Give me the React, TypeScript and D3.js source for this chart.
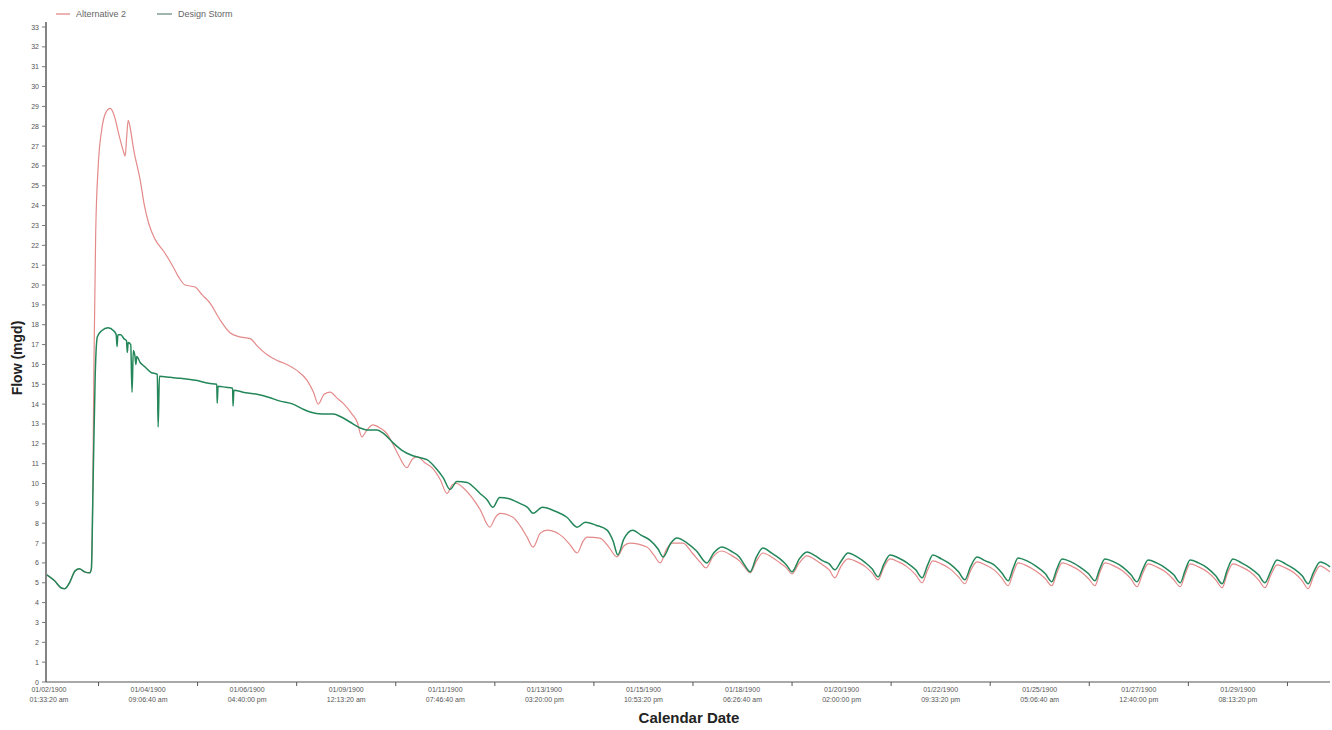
import React from "react";
import * as d3 from "d3";

// ---- Data (x = days from chart start, y = flow in mgd) ----
const seriesNames = ["Alternative 2", "Design Storm"];
const seriesColors = ["#e48a8a", "#23875a"];

const alternative2: [number, number][] = [
  [0.02, 5.4], [0.2, 5.1], [0.35, 4.75], [0.44, 4.7], [0.55, 5.0], [0.68, 5.6], [0.78, 5.7], [0.9, 5.55], [1.02, 5.5], [1.06, 5.7],
  [1.09, 9], [1.12, 16], [1.16, 22.5], [1.22, 26.0], [1.3, 27.8], [1.4, 28.7], [1.5, 28.9], [1.6, 28.5], [1.7, 27.6], [1.8, 26.8],
  [1.85, 26.5], [1.88, 27.3], [1.92, 28.3], [1.96, 28.0], [2.05, 26.8], [2.2, 25.3], [2.3, 24.0], [2.4, 23.1], [2.55, 22.3], [2.75, 21.7],
  [2.95, 21.0], [3.1, 20.4], [3.25, 20.0], [3.48, 19.9], [3.65, 19.5], [3.83, 19.1], [4.05, 18.3], [4.3, 17.6], [4.5, 17.4], [4.77, 17.3],
  [4.95, 16.9], [5.16, 16.5], [5.4, 16.2], [5.63, 16.0], [5.86, 15.7], [6.1, 15.2], [6.25, 14.6], [6.36, 14.0], [6.5, 14.5], [6.64, 14.6],
  [6.8, 14.3], [6.94, 14.05], [7.15, 13.5], [7.27, 13.1], [7.38, 12.35], [7.5, 12.7], [7.64, 12.95], [7.8, 12.8], [7.97, 12.5], [8.1, 12.0],
  [8.22, 11.5], [8.43, 10.8], [8.55, 11.2], [8.67, 11.35], [8.85, 11.05], [9.04, 10.75], [9.21, 10.2], [9.37, 9.5], [9.5, 9.95], [9.6, 10.0],
  [9.74, 9.8], [9.95, 9.3], [10.14, 8.7], [10.37, 7.8], [10.5, 8.3], [10.61, 8.5], [10.91, 8.3], [11.1, 7.8], [11.24, 7.3], [11.38, 6.8],
  [11.55, 7.5], [11.71, 7.65], [12.08, 7.3], [12.25, 6.9], [12.41, 6.5], [12.55, 7.1], [12.64, 7.3], [12.94, 7.25], [13.15, 6.8], [13.34, 6.3],
  [13.5, 6.85], [13.64, 7.0], [14.04, 6.8], [14.2, 6.4], [14.35, 6.0], [14.5, 6.7], [14.65, 7.0], [14.88, 7.0], [15.1, 6.5], [15.3, 6.0],
  [15.42, 5.75], [15.58, 6.3], [15.79, 6.6], [16.0, 6.4], [16.2, 6.1], [16.32, 5.8], [16.45, 5.5],
  [16.6, 6.1], [16.75, 6.5], [16.95, 6.3], [17.15, 6.0], [17.3, 5.75], [17.43, 5.45],
  [17.6, 6.0], [17.78, 6.35], [17.98, 6.15], [18.15, 5.9], [18.3, 5.65], [18.43, 5.25],
  [18.58, 5.85], [18.74, 6.2], [18.95, 6.05], [19.15, 5.8], [19.3, 5.5], [19.44, 5.15],
  [19.58, 5.8], [19.72, 6.2], [19.92, 6.05], [20.12, 5.8], [20.32, 5.4], [20.47, 5.0],
  [20.6, 5.65], [20.72, 6.1], [20.92, 5.95], [21.12, 5.7], [21.32, 5.3], [21.47, 4.95],
  [21.6, 5.6], [21.75, 6.05], [21.95, 5.9], [22.15, 5.65], [22.33, 5.25], [22.48, 4.85],
  [22.6, 5.5], [22.71, 6.0], [22.92, 5.85], [23.12, 5.6], [23.35, 5.2], [23.5, 4.85],
  [23.62, 5.5], [23.74, 6.0], [23.95, 5.85], [24.15, 5.6], [24.36, 5.2], [24.51, 4.85],
  [24.62, 5.5], [24.74, 6.0], [24.95, 5.85], [25.15, 5.6], [25.35, 5.2], [25.49, 4.8],
  [25.62, 5.45], [25.75, 5.95], [25.95, 5.8], [26.15, 5.55], [26.35, 5.15], [26.5, 4.8],
  [26.62, 5.45], [26.73, 5.95], [26.93, 5.8], [27.13, 5.55], [27.33, 5.15], [27.48, 4.75],
  [27.6, 5.45], [27.73, 5.95], [27.93, 5.8], [28.13, 5.55], [28.33, 5.15], [28.48, 4.75],
  [28.62, 5.4], [28.76, 5.9], [28.96, 5.75], [29.16, 5.5], [29.35, 5.1], [29.49, 4.7],
  [29.62, 5.35], [29.77, 5.85], [29.9, 5.7], [30.0, 5.55],
];

const designStorm: [number, number][] = [
  [0.02, 5.4], [0.2, 5.1], [0.35, 4.75], [0.44, 4.7], [0.55, 5.0], [0.68, 5.6], [0.78, 5.7], [0.9, 5.55], [1.02, 5.5], [1.06, 5.7],
  [1.1, 10.0], [1.15, 15.5], [1.2, 17.4], [1.3, 17.7], [1.45, 17.85], [1.58, 17.7], [1.64, 17.5], [1.66, 16.9], [1.68, 17.5], [1.75, 17.5],
  [1.82, 17.3], [1.88, 17.2], [1.9, 16.6], [1.92, 17.1], [1.98, 17.0], [2.01, 14.6], [2.04, 16.7], [2.08, 16.4], [2.1, 16.0], [2.12, 16.4],
  [2.2, 16.1], [2.3, 15.9], [2.45, 15.6], [2.6, 15.5], [2.62, 12.85], [2.65, 15.4], [2.9, 15.35], [3.15, 15.3], [3.5, 15.2], [3.8, 15.05],
  [3.99, 15.0], [4.0, 14.05], [4.02, 14.9], [4.2, 14.85], [4.36, 14.8], [4.37, 13.9], [4.39, 14.7], [4.6, 14.6], [4.93, 14.5], [5.2, 14.35],
  [5.47, 14.15], [5.77, 14.0], [6.0, 13.75], [6.17, 13.6], [6.45, 13.5], [6.71, 13.5], [6.9, 13.35], [7.1, 13.1], [7.34, 12.8], [7.5, 12.7],
  [7.73, 12.7], [7.9, 12.5], [8.11, 12.05], [8.3, 11.7], [8.57, 11.4], [8.75, 11.3], [8.9, 11.2], [9.1, 10.8], [9.28, 10.3], [9.44, 9.7],
  [9.6, 10.1], [9.84, 10.05], [10.0, 9.8], [10.14, 9.5], [10.3, 9.2], [10.44, 8.8], [10.6, 9.3], [10.8, 9.25], [11.07, 9.0], [11.25, 8.8],
  [11.38, 8.5], [11.6, 8.8], [11.9, 8.6], [12.17, 8.3], [12.41, 7.8], [12.6, 8.05], [12.85, 7.9], [13.11, 7.65], [13.25, 7.1], [13.36, 6.4],
  [13.5, 7.2], [13.71, 7.65], [13.9, 7.4], [14.11, 7.15], [14.3, 6.7], [14.42, 6.3], [14.6, 7.0], [14.74, 7.25], [14.98, 7.0], [15.2, 6.6],
  [15.44, 6.0], [15.6, 6.5], [15.79, 6.8], [16.0, 6.6], [16.2, 6.3], [16.32, 5.9], [16.45, 5.55],
  [16.6, 6.3], [16.75, 6.75], [16.95, 6.5], [17.15, 6.2], [17.3, 5.9], [17.43, 5.55],
  [17.6, 6.2], [17.78, 6.55], [17.98, 6.35], [18.15, 6.1], [18.3, 5.95], [18.43, 5.65],
  [18.58, 6.1], [18.74, 6.5], [18.95, 6.3], [19.15, 6.0], [19.3, 5.7], [19.44, 5.3],
  [19.58, 5.95], [19.72, 6.4], [19.92, 6.25], [20.12, 6.0], [20.32, 5.65], [20.47, 5.25],
  [20.6, 5.9], [20.72, 6.4], [20.92, 6.2], [21.12, 5.95], [21.32, 5.55], [21.47, 5.15],
  [21.6, 5.8], [21.75, 6.3], [21.95, 6.1], [22.15, 5.9], [22.33, 5.5], [22.48, 5.1],
  [22.6, 5.75], [22.71, 6.25], [22.92, 6.1], [23.12, 5.85], [23.35, 5.45], [23.5, 5.05],
  [23.62, 5.7], [23.74, 6.2], [23.95, 6.05], [24.15, 5.8], [24.36, 5.45], [24.51, 5.1],
  [24.62, 5.7], [24.74, 6.2], [24.95, 6.05], [25.15, 5.8], [25.35, 5.4], [25.49, 5.05],
  [25.62, 5.65], [25.75, 6.15], [25.95, 6.0], [26.15, 5.75], [26.35, 5.4], [26.5, 5.0],
  [26.62, 5.65], [26.73, 6.15], [26.93, 6.0], [27.13, 5.75], [27.33, 5.35], [27.48, 4.95],
  [27.6, 5.65], [27.73, 6.2], [27.93, 6.0], [28.13, 5.75], [28.33, 5.4], [28.48, 5.0],
  [28.62, 5.6], [28.76, 6.15], [28.96, 5.95], [29.16, 5.7], [29.35, 5.35], [29.49, 4.95],
  [29.62, 5.55], [29.77, 6.05], [29.9, 5.95], [30.0, 5.8],
];

// time axis: first labelled tick and spacing between labels (ms)
const firstTickUTC = Date.UTC(1900, 0, 2, 1, 33, 20);
const tickStepMs = 200000000;
const tickCount = 13;
const startOffsetDays = 0.07; // chart start lies this far before the first labelled tick
const spanDays = 30;
const yTickValues = d3.range(0, 34);

const xTitle = "Calendar Date";
const yTitle = "Flow (mgd)";

const W = 1332;
const H = 730;
const left = 46;
const right = 1330;
const top = 27;
const bottom = 682;

export default function App() {
  const DAY = 86400000;
  const start = new Date(firstTickUTC - startOffsetDays * DAY);
  const end = new Date(start.getTime() + spanDays * DAY);
  const x = d3.scaleUtc().domain([start, end]).range([left, right]);
  const y = d3.scaleLinear().domain([0, 33]).range([bottom, top]);
  const toDate = (d: number) => new Date(start.getTime() + d * DAY);

  const line = d3
    .line<[number, number]>()
    .x((p) => x(toDate(p[0])))
    .y((p) => y(p[1]))
    .curve(d3.curveMonotoneX);

  const labelTicks = d3.range(tickCount).map((i) => new Date(firstTickUTC + i * tickStepMs));
  const markTicks = d3
    .range(tickCount)
    .map((i) => new Date(firstTickUTC + i * tickStepMs + tickStepMs / 2))
    .filter((t) => t <= end);
  const fDate = d3.utcFormat("%m/%d/%Y");
  const fTime = (t: Date) => {
    const s = d3.utcFormat("%I:%M:%S %p")(t);
    return s.replace("AM", "am").replace("PM", "pm");
  };

  const font = "'Liberation Sans', Arial, sans-serif";
  const series = [alternative2, designStorm];
  const widths = [1.2, 1.5];

  return (
    <svg
      width={W}
      height={H}
      style={{ position: "absolute", left: 0, top: 0, background: "#fff" }}
      fontFamily={font}
    >
      {/* legend */}
      <g>
        <line x1={56} x2={70} y1={14} y2={14} stroke={seriesColors[0]} strokeWidth={1.3} />
        <text x={76} y={17} fontSize={9} fill="#666">{seriesNames[0]}</text>
        <line x1={157} x2={172} y1={14} y2={14} stroke="#6a8f80" strokeWidth={1.3} />
        <text x={178} y={17} fontSize={9} fill="#666">{seriesNames[1]}</text>
      </g>

      {/* y axis */}
      <line x1={left} x2={left} y1={top - 5} y2={bottom} stroke="#666" strokeWidth={1.6} />
      {yTickValues.map((v) => (
        <g key={"y" + v}>
          <line x1={left - 4} x2={left} y1={y(v)} y2={y(v)} stroke="#777" strokeWidth={1} />
          <text x={left - 7} y={y(v) + 2.5} fontSize={7} fill="#555" textAnchor="end">
            {v}
          </text>
        </g>
      ))}

      {/* x axis */}
      <line x1={left} x2={right} y1={bottom} y2={bottom} stroke="#555" strokeWidth={1.2} />
      {markTicks.map((t, i) => (
        <line key={"m" + i} x1={x(t)} x2={x(t)} y1={bottom} y2={bottom + 4} stroke="#555" strokeWidth={1} />
      ))}
      {labelTicks.map((t, i) => (
        <g key={"l" + i}>
          <text x={x(t)} y={692} fontSize={7} fill="#555" textAnchor="middle">{fDate(t)}</text>
          <text x={x(t)} y={702} fontSize={7} fill="#555" textAnchor="middle">{fTime(t)}</text>
        </g>
      ))}

      {/* series */}
      {series.map((s, i) => (
        <path key={"s" + i} d={line(s) || ""} fill="none" stroke={seriesColors[i]} strokeWidth={widths[i]} />
      ))}

      {/* titles */}
      <text x={689} y={723} fontSize={15} fontWeight="bold" fill="#222" textAnchor="middle">
        {xTitle}
      </text>
      <text
        transform={`translate(22, 358) rotate(-90)`}
        fontSize={14}
        fontWeight="bold"
        fill="#222"
        textAnchor="middle"
      >
        {yTitle}
      </text>
    </svg>
  );
}
